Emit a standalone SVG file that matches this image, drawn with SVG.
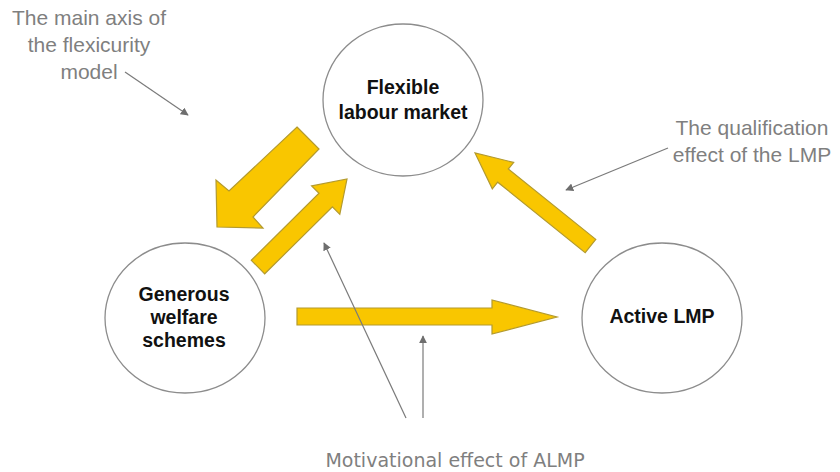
<svg xmlns="http://www.w3.org/2000/svg" width="840" height="472" viewBox="0 0 840 472">
<style>
  .node { fill: #ffffff; stroke: #8c8c8c; stroke-width: 1.3; }
  .lbl { font-family: "Liberation Sans", Arial, sans-serif; font-weight: bold; font-size: 19.5px; fill: #111111; text-anchor: middle; }
  .note { font-family: "Liberation Sans", Arial, sans-serif; font-size: 21px; fill: #7f7f7f; text-anchor: middle; }
  .note2 { font-family: "DejaVu Sans", sans-serif; font-size: 19px; fill: #7f7f7f; text-anchor: middle; }
  .big { fill: #f9c600; stroke: #b39a2e; stroke-width: 1.2; stroke-linejoin: miter; }
  .thin { fill: none; stroke: #7a7a7a; stroke-width: 1.2; marker-end: url(#tip); }
</style>
<defs>
  <marker id="tip" viewBox="0 0 10 10" refX="9" refY="5" markerWidth="8" markerHeight="8" markerUnits="userSpaceOnUse" orient="auto">
    <path d="M0,0 L10,5 L0,10 z" fill="#6e6e6e"/>
  </marker>
</defs>
<rect width="840" height="472" fill="#ffffff"/>

<g id="connectors">
  <polygon class="big" points="297,127 319,149 253,217 263,228 217,227 216,180 229,191"/>
  <polygon class="big" points="251.3,260.3 319,193.3 311.6,185.9 347,179 339.8,214.3 332.4,206.9 264.7,273.8"/>
  <polygon class="big" points="595.8,239.4 508.3,169 513.7,162.4 475,153 492.3,188.8 497.7,182.2 585.2,252.6"/>
  <polygon class="big" points="297,308 492,308 492,300 557,317 492,334 492,325 297,325"/>
  <line class="thin" x1="125" y1="72" x2="188" y2="115"/>
  <line class="thin" x1="668" y1="148" x2="566" y2="190"/>
  <line class="thin" x1="406" y1="418" x2="324" y2="243"/>
  <line class="thin" x1="423" y1="418" x2="423" y2="336"/>
</g>

<g id="node-flexible">
  <ellipse class="node" cx="403" cy="100" rx="80" ry="76"/>
  <text class="lbl" x="403" y="94">Flexible</text>
  <text class="lbl" x="403" y="119">labour market</text>
</g>

<g id="node-welfare">
  <ellipse class="node" cx="185" cy="318" rx="80" ry="75"/>
  <text class="lbl" x="184" y="301">Generous</text>
  <text class="lbl" x="184" y="324">welfare</text>
  <text class="lbl" x="184" y="347">schemes</text>
</g>

<g id="node-active">
  <ellipse class="node" cx="662" cy="318" rx="80" ry="75"/>
  <text class="lbl" x="662" y="323">Active LMP</text>
</g>

<g id="note-axis">
  <text class="note" x="89" y="25">The main axis of</text>
  <text class="note" x="89" y="52">the flexicurity</text>
  <text class="note" x="89" y="79">model</text>
</g>

<g id="note-qualification">
  <text class="note" x="752" y="135">The qualification</text>
  <text class="note" x="752" y="162">effect of the LMP</text>
</g>

<g id="note-motivational">
  <text class="note2" x="455" y="467">Motivational effect of ALMP</text>
</g>
</svg>
